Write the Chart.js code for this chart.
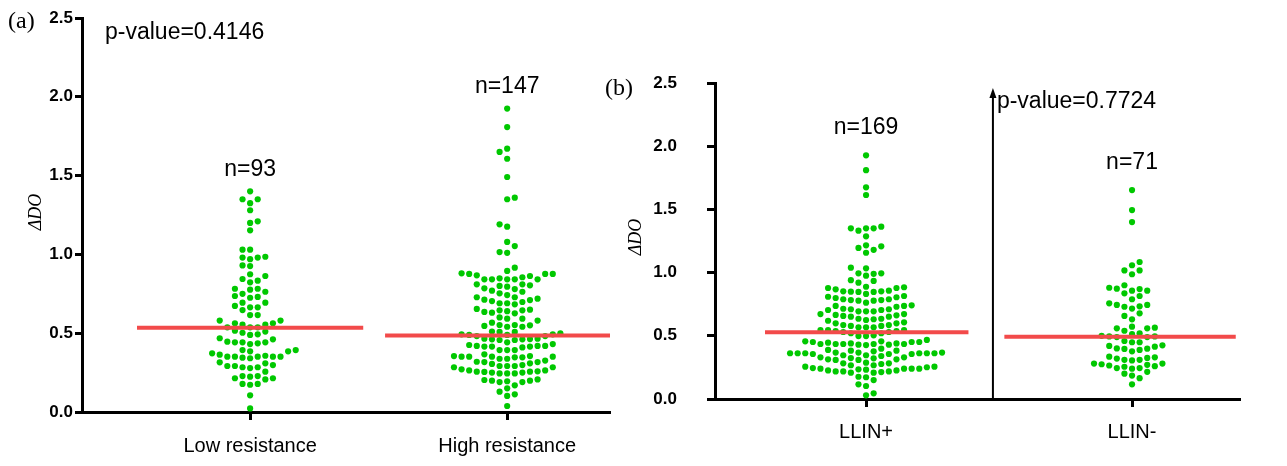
<!DOCTYPE html>
<html>
<head>
<meta charset="utf-8">
<script src="https://cdn.jsdelivr.net/npm/chart.js@4.4.1/dist/chart.umd.min.js"></script>
<style>
  body { margin: 0; background: #fff; }
  #wrap { position: relative; width: 1287px; height: 466px; }
  canvas { position: absolute; top: 0; }
  #chart-a { left: 0; }
  #chart-b { left: 600px; }
</style>
</head>
<body>
<div id="wrap">
  <canvas id="chart-a" width="640" height="466"></canvas>
  <canvas id="chart-b" width="687" height="466"></canvas>
</div>
<script>
// DATA
var groupsA = ["Low resistance", "High resistance"];
var groupsB = ["LLIN+", "LLIN-"];
var yTicks = [0, 0.5, 1.0, 1.5, 2.0, 2.5];

var lowRes = [
  1.40, 1.35, 1.35, 1.325, 1.28, 1.21, 1.20, 1.153, 1.03, 1.03,
  0.985, 0.98, 0.97, 0.98, 0.926, 0.93, 0.874, 0.863, 0.833, 0.844, 0.823,
  0.782, 0.763, 0.782, 0.776, 0.736, 0.73, 0.75, 0.725,
  0.694, 0.673, 0.694, 0.664, 0.647, 0.664, 0.615, 0.615,
  0.58, 0.58, 0.563, 0.563, 0.537, 0.537, 0.554, 0.554, 0.537,
  0.51, 0.503, 0.516, 0.493, 0.489, 0.461, 0.468,
  0.442, 0.442, 0.431, 0.436, 0.442, 0.446,
  0.393, 0.385, 0.372, 0.385, 0.393,
  0.357, 0.351, 0.351, 0.345, 0.341, 0.351, 0.351, 0.351, 0.364,
  0.309, 0.315, 0.298,
  0.292, 0.284, 0.279, 0.284, 0.292, 0.256,
  0.214, 0.228, 0.228, 0.207, 0.214, 0.224,
  0.178, 0.173, 0.178, 0.106, 0.023
];

var highRes = [
  1.925, 1.808, 1.671, 1.650, 1.607, 1.491, 1.36, 1.35, 1.191, 1.176,
  1.079, 1.053, 1.015, 1.01, 0.916,
  0.895, 0.88, 0.876, 0.876, 0.876, 0.867, 0.863, 0.855, 0.848, 0.842, 0.842, 0.842, 0.842, 0.842,
  0.81, 0.80, 0.795, 0.804, 0.81,
  0.78, 0.763, 0.742, 0.753, 0.77, 0.785,
  0.728, 0.713, 0.704, 0.69, 0.683, 0.69, 0.698, 0.71, 0.719, 0.728,
  0.649, 0.645, 0.635, 0.626, 0.63, 0.64, 0.645, 0.654,
  0.592, 0.58, 0.567, 0.592, 0.60, 0.546, 0.541, 0.55, 0.541, 0.552, 0.552,
  0.508, 0.493, 0.489, 0.493, 0.499, 0.51, 0.482, 0.482, 0.489, 0.508,
  0.442, 0.463, 0.461, 0.457, 0.457, 0.461, 0.465, 0.465, 0.431,
  0.425, 0.419, 0.419, 0.415, 0.415, 0.393, 0.393, 0.393, 0.41, 0.415, 0.419,
  0.366, 0.355, 0.351, 0.351, 0.347, 0.338, 0.338, 0.347, 0.351, 0.351, 0.355,
  0.319, 0.317, 0.326,
  0.298, 0.292, 0.284, 0.284, 0.292, 0.292, 0.305, 0.309, 0.317,
  0.271, 0.264, 0.256, 0.256, 0.25, 0.245, 0.245, 0.245, 0.25, 0.254, 0.258, 0.264,
  0.203, 0.199, 0.19, 0.169, 0.19, 0.195, 0.199, 0.207,
  0.15, 0.129, 0.112, 0.102, 0.038
];

var llinPos = [
  1.928, 1.81, 1.675, 1.614, 1.363, 1.35, 1.35, 1.35, 1.332, 1.287,
  1.208, 1.18, 1.216, 1.195, 1.157, 1.039, 1.034, 0.976, 0.994, 0.99, 0.994,
  0.934, 0.92, 0.94,
  0.884, 0.878, 0.857, 0.849, 0.847, 0.831, 0.847, 0.852, 0.852, 0.868, 0.878, 0.888,
  0.809, 0.799, 0.789, 0.783, 0.778, 0.762, 0.778, 0.783, 0.789, 0.805, 0.815,
  0.736, 0.73, 0.71, 0.704, 0.694, 0.694, 0.694, 0.704, 0.71, 0.714, 0.736, 0.741,
  0.672, 0.665, 0.657, 0.651, 0.635, 0.631, 0.619, 0.625, 0.635, 0.651, 0.662, 0.672,
  0.599, 0.585, 0.578, 0.567, 0.567, 0.567, 0.578, 0.585, 0.599, 0.607,
  0.546, 0.538, 0.53, 0.52, 0.52, 0.53, 0.538, 0.546, 0.546, 0.504, 0.498, 0.498,
  0.467, 0.456, 0.451, 0.451, 0.44, 0.435, 0.435, 0.43, 0.43, 0.435, 0.435, 0.435,
  0.44, 0.446, 0.451, 0.456, 0.427,
  0.398, 0.388, 0.382, 0.362, 0.362, 0.362, 0.362, 0.356, 0.356, 0.356, 0.362,
  0.367, 0.367, 0.367, 0.377, 0.382,
  0.346, 0.33, 0.324, 0.314, 0.309, 0.309, 0.314, 0.322, 0.33, 0.34, 0.346, 0.362,
  0.282, 0.277, 0.267, 0.256, 0.251, 0.24, 0.24, 0.245, 0.256, 0.267, 0.282, 0.287,
  0.235, 0.226, 0.218, 0.218, 0.208, 0.208, 0.213, 0.218, 0.226, 0.232, 0.24, 0.24,
  0.176, 0.172, 0.15, 0.116, 0.103, 0.045, 0.029
];

var llinNeg = [
  1.653, 1.495, 1.40, 1.084, 1.058, 1.017, 1.017, 0.987,
  0.88, 0.87, 0.857, 0.857, 0.873, 0.90, 0.836,
  0.815, 0.789,
  0.744, 0.733, 0.715, 0.73, 0.744, 0.757,
  0.678, 0.657, 0.63,
  0.572, 0.559, 0.54, 0.514, 0.52, 0.559, 0.564,
  0.50, 0.495, 0.49, 0.495, 0.49,
  0.42, 0.40, 0.396, 0.377, 0.388, 0.398, 0.414, 0.425, 0.449, 0.449, 0.459,
  0.33, 0.32, 0.31, 0.305, 0.31, 0.325, 0.335,
  0.28, 0.275, 0.26, 0.245, 0.24, 0.245, 0.255, 0.265, 0.27, 0.28,
  0.2, 0.185, 0.215, 0.165,
  0.116
];

var mediansA = [0.535, 0.485];
var mediansB = [0.528, 0.492];
var pValueA = "p-value=0.4146";
var pValueB = "p-value=0.7724";

// STYLE
var GREEN = "#00c800";
var RED = "#f24a4a";
var DOT_R = 3.1;
var STEP = 7.6;     // column spacing of the swarm, px
var MIN_GAP = 6.9;  // two dots closer than this overlap
var SANS = "'Liberation Sans', Arial, sans-serif";
var SERIF = "'Liberation Serif', 'Times New Roman', serif";

// beeswarm: spread each group sideways so dots do not overlap
function placeSwarm(chart) {
  var xs = chart.scales.x, ys = chart.scales.y;
  chart.data.datasets.forEach(function (ds) {
    if (!ds.raw) return;
    var cx = xs.getPixelForValue(ds.group);
    var placed = [];
    var bal = 0;
    ds.data = ds.raw.slice().sort(function (a, b) { return a - b; }).map(function (v) {
      var py = ys.getPixelForValue(v);
      for (var k = 0; k < 60; k++) {
        var offs = k === 0 ? [0] : (bal > 0 ? [-k * STEP, k * STEP] : [k * STEP, -k * STEP]);
        for (var j = 0; j < offs.length; j++) {
          var ox = offs[j];
          var free = placed.every(function (p) {
            return Math.hypot(p[0] - ox, p[1] - py) >= MIN_GAP;
          });
          if (free) {
            placed.push([ox, py]);
            bal += Math.sign(ox);
            return { x: xs.getValueForPixel(cx + ox), y: v };
          }
        }
      }
    });
  });
  chart.update("none");
}

var notesPlugin = {
  id: "notes",
  afterDraw: function (chart, args, o) {
    var c = chart.ctx, xs = chart.scales.x, ys = chart.scales.y;
    c.save();
    c.fillStyle = "#000";
    c.strokeStyle = "#000";
    c.textBaseline = "middle";
    // n= above each swarm
    c.font = "23px " + SANS;
    c.textAlign = "center";
    o.groups.forEach(function (vals, i) {
      var top = Math.max.apply(null, vals);
      c.fillText("n=" + vals.length, xs.getPixelForValue(i + 1), ys.getPixelForValue(top + o.nGap));
    });
    // p-value
    c.textAlign = "left";
    c.fillText(o.pText, xs.getPixelForValue(o.pAt[0]), ys.getPixelForValue(o.pAt[1]));
    // arrow
    if (o.arrow) {
      var ax = xs.getPixelForValue(o.arrow[0]);
      var ay0 = ys.getPixelForValue(0), ay1 = ys.getPixelForValue(o.arrow[1]);
      c.lineWidth = 2;
      c.beginPath();
      c.moveTo(ax, ay0);
      c.lineTo(ax, ay1 + 6);
      c.stroke();
      c.beginPath();
      c.moveTo(ax, ay1);
      c.lineTo(ax - 3.5, ay1 + 10);
      c.lineTo(ax + 3.5, ay1 + 10);
      c.closePath();
      c.fill();
    }
    // panel letter
    c.font = "24px " + SERIF;
    c.fillText(o.panel, o.panelAt[0], o.panelAt[1]);
    // y title
    c.translate(o.titleAt[0], o.titleAt[1]);
    c.rotate(-Math.PI / 2);
    c.font = "italic 18px " + SERIF;
    c.textAlign = "center";
    c.fillText("\u0394DO", 0, 0);
    c.restore();
  }
};

function medianLine(g, m, span) {
  return [{ x: g - span[0], y: m }, { x: g + span[1], y: m }];
}

function buildChart(id, cfg) {
  var datasets = [];
  cfg.groups.forEach(function (vals, i) {
    datasets.push({
      type: "line",
      data: medianLine(i + 1, cfg.medians[i], cfg.spans[i]),
      borderColor: RED,
      borderWidth: 4,
      pointRadius: 0,
      order: 0
    });
    datasets.push({
      raw: vals,
      group: i + 1,
      data: [],
      backgroundColor: GREEN,
      pointRadius: DOT_R,
      pointHoverRadius: DOT_R,
      borderWidth: 0,
      order: 1
    });
  });

  var ctx = document.getElementById(id).getContext("2d");
  var chart = new Chart(ctx, {
    type: "scatter",
    data: { datasets: datasets },
    options: {
      responsive: false,
      animation: false,
      events: [],
      layout: { padding: { top: cfg.top, right: cfg.right, left: 0, bottom: 0 } },
      plugins: {
        legend: { display: false },
        tooltip: { enabled: false },
        notes: {
          groups: cfg.groups,
          nGap: cfg.nGap,
          pText: cfg.pText,
          pAt: cfg.pAt,
          arrow: cfg.arrow,
          panel: cfg.panel,
          panelAt: cfg.panelAt,
          titleAt: cfg.titleAt
        }
      },
      scales: {
        x: {
          type: "linear",
          min: cfg.xMin,
          max: cfg.xMax,
          afterBuildTicks: function (s) { s.ticks = [{ value: 1 }, { value: 2 }]; },
          afterFit: function (s) { s.height = cfg.xHeight; },
          ticks: {
            autoSkip: false,
            maxRotation: 0,
            padding: cfg.xPad,
            color: "#000",
            font: { family: SANS, size: 20 },
            callback: function (v) { return cfg.labels[Math.round(v) - 1]; }
          },
          grid: { drawOnChartArea: false, tickLength: 8, tickWidth: 3, tickColor: "#000" },
          border: { color: "#000", width: 3 }
        },
        y: {
          min: 0,
          max: 2.5,
          afterBuildTicks: function (s) { s.ticks = yTicks.map(function (v) { return { value: v }; }); },
          afterFit: function (s) { s.width = cfg.yWidth; },
          ticks: {
            padding: cfg.yPad,
            color: "#000",
            font: { family: SANS, size: 17, weight: "bold" },
            callback: function (v) { return v.toFixed(1); }
          },
          grid: { drawOnChartArea: false, tickLength: cfg.yTick, tickWidth: 3, tickColor: "#000" },
          border: { color: "#000", width: 3 }
        }
      }
    },
    plugins: [notesPlugin]
  });
  placeSwarm(chart);
  return chart;
}

// (a) resistance level
var chartA = buildChart("chart-a", {
  groups: [lowRes, highRes],
  labels: groupsA,
  medians: mediansA,
  spans: [[0.44, 0.44], [0.475, 0.45]],
  xMin: 0.346, xMax: 2.4,
  top: 18, right: 30,
  xHeight: 54, xPad: 14,
  yWidth: 82, yPad: 2, yTick: 7,
  nGap: 0.14,
  pText: pValueA, pAt: [0.4355, 2.41],
  arrow: null,
  panel: "(a)", panelAt: [8, 22],
  titleAt: [36, 212]
});

// (b) LLIN use
var chartB = buildChart("chart-b", {
  groups: [llinPos, llinNeg],
  labels: groupsB,
  medians: mediansB,
  spans: [[0.38, 0.385], [0.48, 0.39]],
  xMin: 0.432, xMax: 2.406,
  top: 83, right: 47,
  xHeight: 67, xPad: 13,
  yWidth: 115, yPad: 30, yTick: 8,
  nGap: 0.22,
  pText: pValueB, pAt: [1.492, 2.35],
  arrow: [1.477, 2.46],
  panel: "(b)", panelAt: [5, 89],
  titleAt: [36, 237]
});
</script>
</body>
</html>
